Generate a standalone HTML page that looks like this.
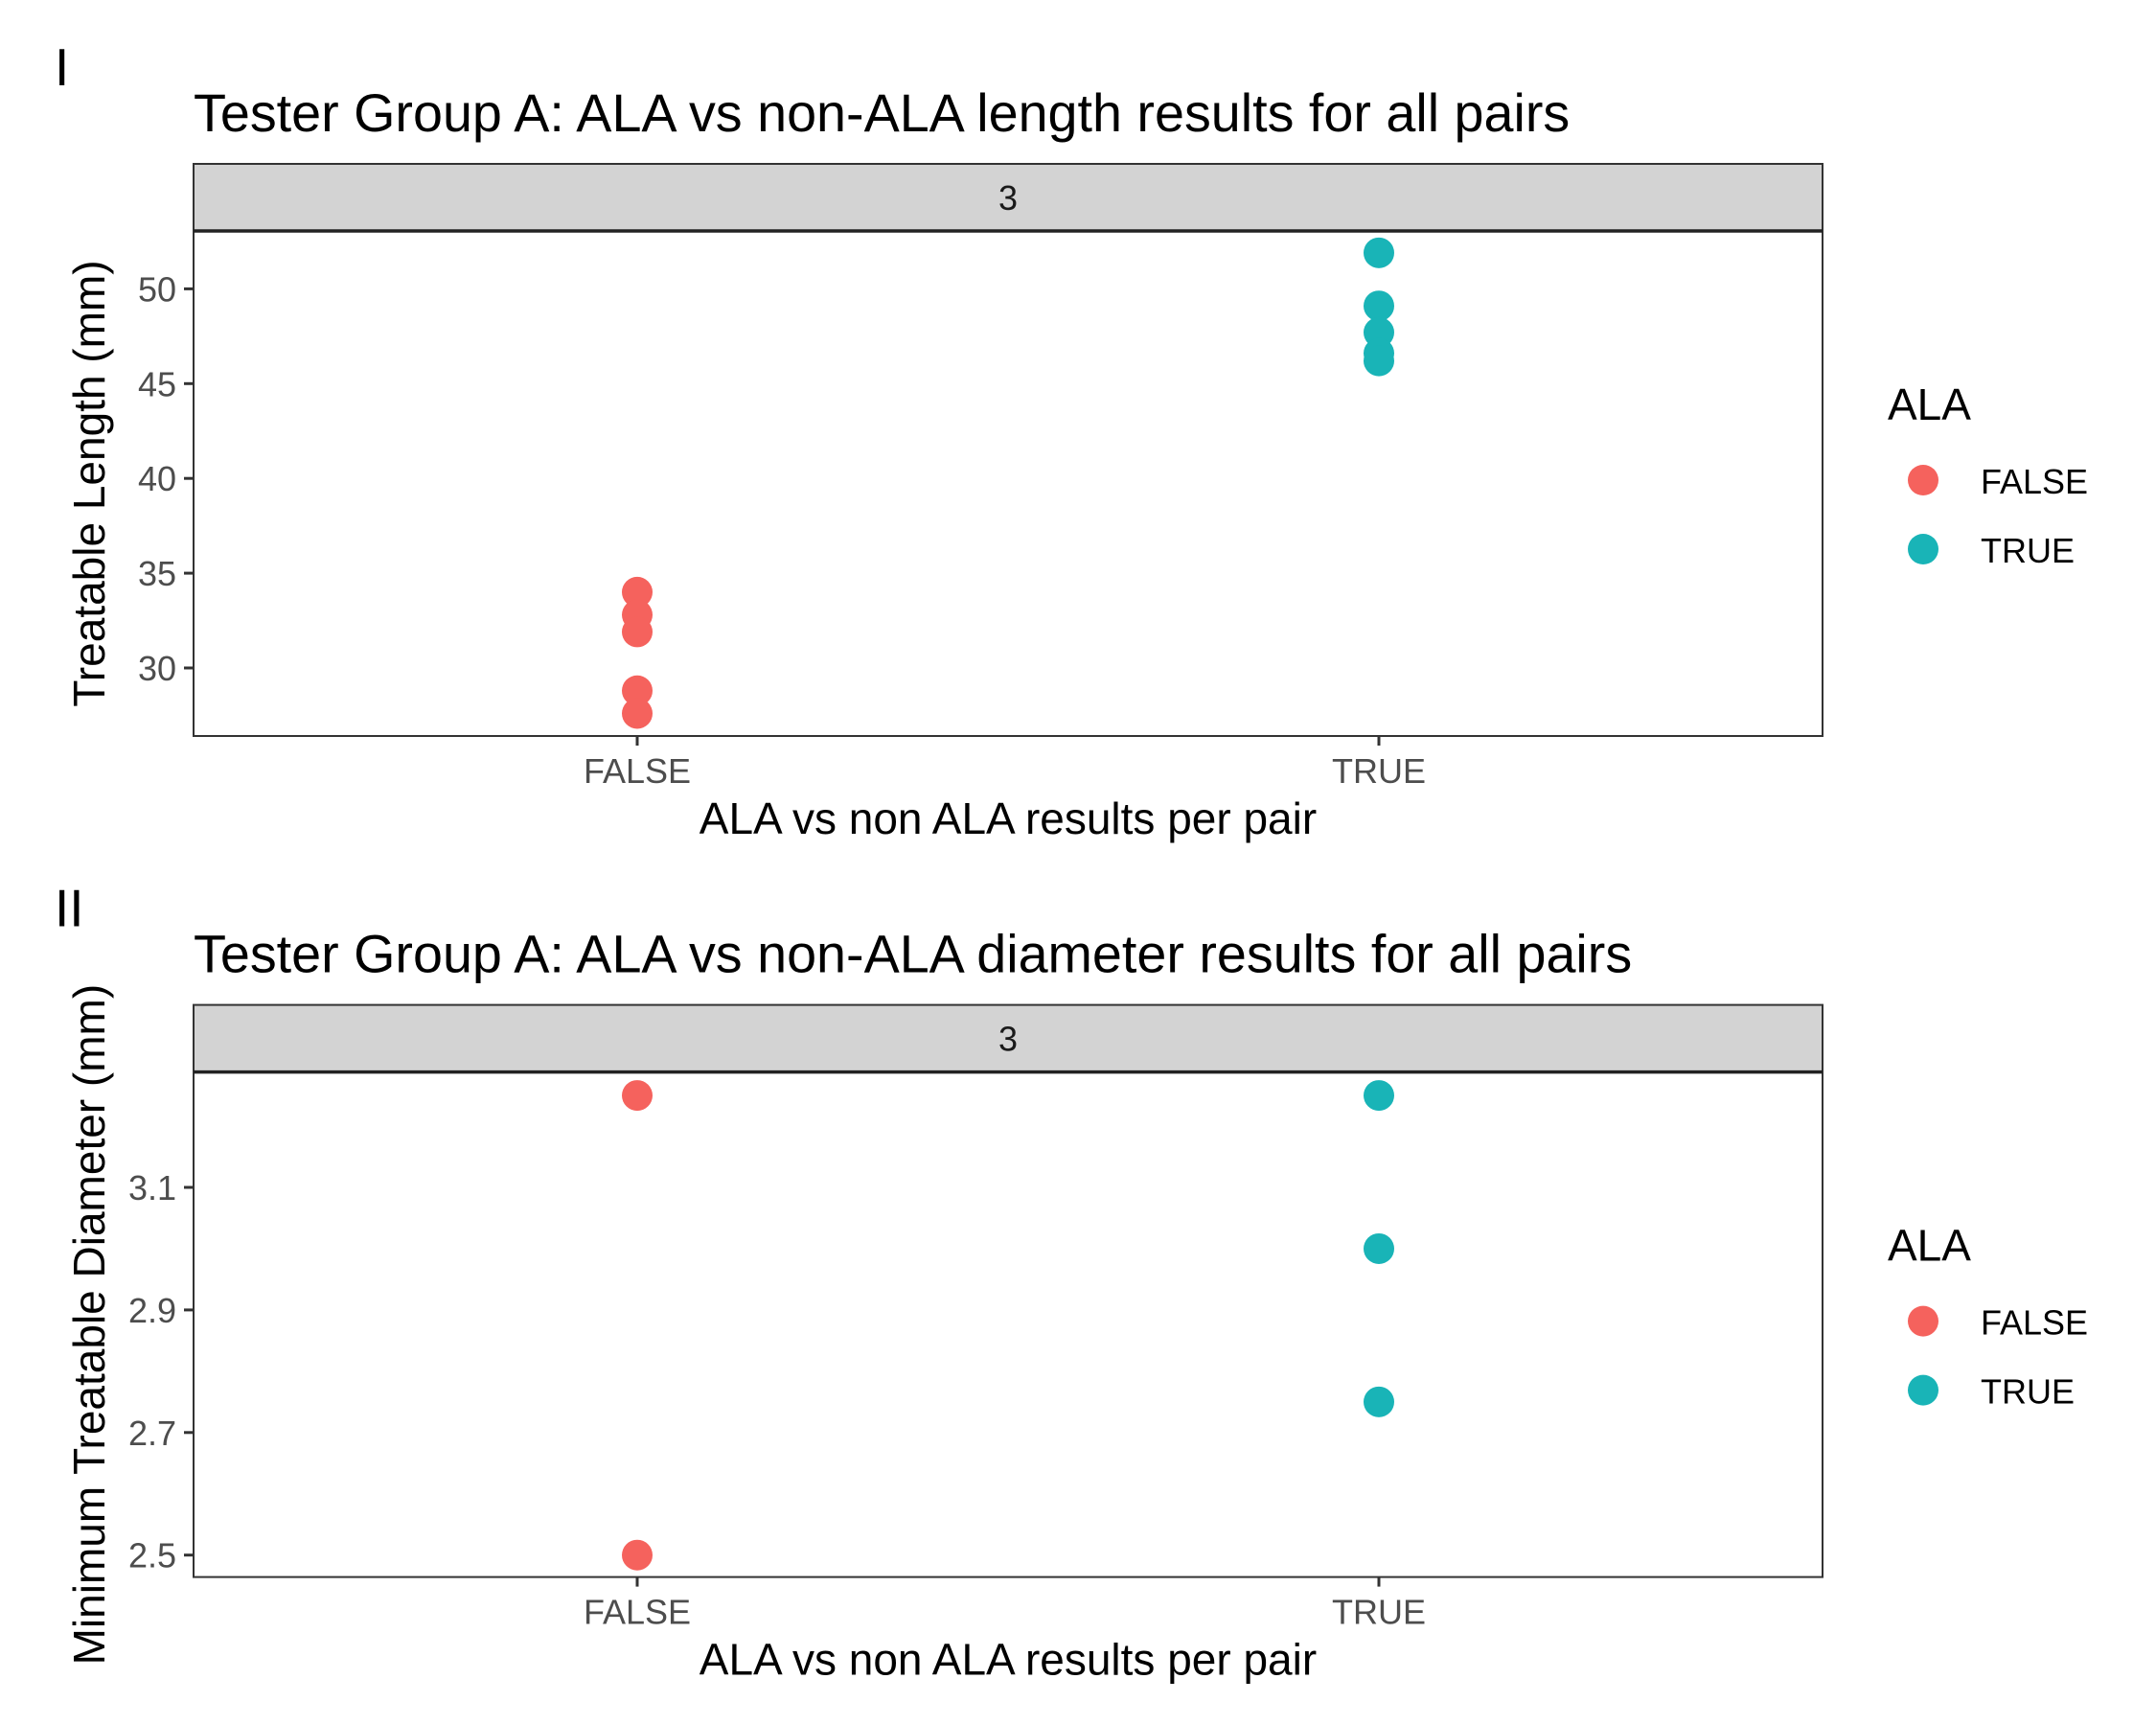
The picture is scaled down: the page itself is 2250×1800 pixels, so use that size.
<!DOCTYPE html>
<html><head><meta charset="utf-8"><style>
html,body{margin:0;padding:0;background:#fff}
svg{display:block;font-family:"Liberation Sans",Arial,sans-serif}
</style></head><body>
<svg id="chart" width="2250" height="1800" viewBox="0 0 2250 1800" xmlns="http://www.w3.org/2000/svg"></svg>
<script>
const categories = ["FALSE", "TRUE"];
const lengthFalse = [34.0, 32.8, 31.9, 28.8, 27.6];
const lengthTrue = [51.9, 49.1, 47.7, 46.6, 46.2];
const lengthTicks = [30, 35, 40, 45, 50];
const diamFalse = [3.25, 2.5];
const diamTrue = [3.25, 3.0, 2.75];
const diamTicks = [2.5, 2.7, 2.9, 3.1];
const legendLabels = ["FALSE", "TRUE"];

const NS = "http://www.w3.org/2000/svg";
const svg = document.getElementById("chart");
const COLORS = {"FALSE": "#F5625D", "TRUE": "#19B4B7"};
function mk(tag, attrs, parent, text) {
  const e = document.createElementNS(NS, tag);
  for (const k in attrs) e.setAttribute(k, attrs[k]);
  if (text !== undefined) e.textContent = text;
  (parent || svg).appendChild(e);
  return e;
}

function drawPanel(cfg) {
  const g = mk("g", {});
  
  
  const L = 202, R = 1902, ST = cfg.off + 171, SB = cfg.off + 241, B = cfg.off + 768;
  const xPos = c => c === "FALSE" ? 665 : 1439;
  const y = cfg.yScale;

  const lab = mk("text", {x: 57, y: cfg.off + 89, "font-size": 55, fill: "#000"}, g, cfg.label);
  
  
  const t = mk("text", {x: 202, y: cfg.off + 137, "font-size": 55.7, fill: "#000"}, g, cfg.title);
  
  

  const strip = mk("rect", {x: L, y: ST, width: R - L, height: SB - ST, fill: "#D3D3D3", stroke: "#333", "stroke-width": 2}, g);
  
  
  const st = mk("text", {x: (L + R) / 2, y: (ST + SB) / 2 + 13, "font-size": 36, fill: "#1a1a1a", "text-anchor": "middle"}, g, "3");
  
  

  const panel = mk("rect", {x: L, y: SB, width: R - L, height: B - SB, fill: "#fff", stroke: "#333", "stroke-width": 2}, g);
  
  
  const sl = mk("line", {x1: L, x2: R, y1: SB, y2: SB, stroke: "#222", "stroke-width": 3.5}, g);
  
  

  cfg.ticks.forEach(v => {
    const ty = y(v);
    const tk = mk("line", {x1: L - 10, x2: L, y1: ty, y2: ty, stroke: "#333", "stroke-width": 3}, g);
    
    
    const tl = mk("text", {x: L - 18, y: ty + 13, "font-size": 36, fill: "#4d4d4d", "text-anchor": "end"}, g, cfg.fmt(v));
    
    
  });
  categories.forEach(c => {
    const tx = xPos(c);
    const tk = mk("line", {x1: tx, x2: tx, y1: B, y2: B + 10, stroke: "#333", "stroke-width": 3}, g);
    
    
    const tl = mk("text", {x: tx, y: cfg.off + 817, "font-size": 36, fill: "#4d4d4d", "text-anchor": "middle"}, g, c);
    
    
  });
  const xt = mk("text", {x: (L + R) / 2, y: cfg.off + 870, "font-size": 46, fill: "#000", "text-anchor": "middle"}, g, "ALA vs non ALA results per pair");
  
  
  const cy = (SB + B) / 2;
  const yt = mk("text", {x: 0, y: 0, "font-size": 46, fill: "#000", "text-anchor": "middle", transform: "translate(109," + cy + ") rotate(-90)"}, g, cfg.ytitle);
  
  

  [["FALSE", cfg.falseVals], ["TRUE", cfg.trueVals]].forEach(([c, vals]) => {
    vals.forEach(v => {
      const p = mk("circle", {cx: xPos(c), cy: y(v), r: 16, fill: COLORS[c]}, g);
      
      
    });
  });

  const lt = mk("text", {x: 1970, y: cfg.off + 438, "font-size": 46, fill: "#000"}, g, "ALA");
  
  
  legendLabels.forEach((c, i) => {
    const ky = cfg.off + 501 + i * 72;
    const k = mk("circle", {cx: 2007, cy: ky, r: 16, fill: COLORS[c]}, g);
    
    
    const kt = mk("text", {x: 2067, y: ky + 14, "font-size": 36, fill: "#000"}, g, c);
    
    
  });
}

drawPanel({
  name: "length-panel", off: 0, label: "I",
  title: "Tester Group A: ALA vs non-ALA length results for all pairs",
  ytitle: "Treatable Length (mm)",
  yScale: v => 301.4 + (50 - v) * 19.78,
  ticks: lengthTicks, fmt: v => String(v),
  falseVals: lengthFalse, trueVals: lengthTrue
});
drawPanel({
  name: "diameter-panel", off: 877.6, label: "II",
  title: "Tester Group A: ALA vs non-ALA diameter results for all pairs",
  ytitle: "Minimum Treatable Diameter (mm)",
  yScale: v => 1622.7 - (v - 2.5) * 639.5,
  ticks: diamTicks, fmt: v => v.toFixed(1),
  falseVals: diamFalse, trueVals: diamTrue
});
</script>
</body></html>
